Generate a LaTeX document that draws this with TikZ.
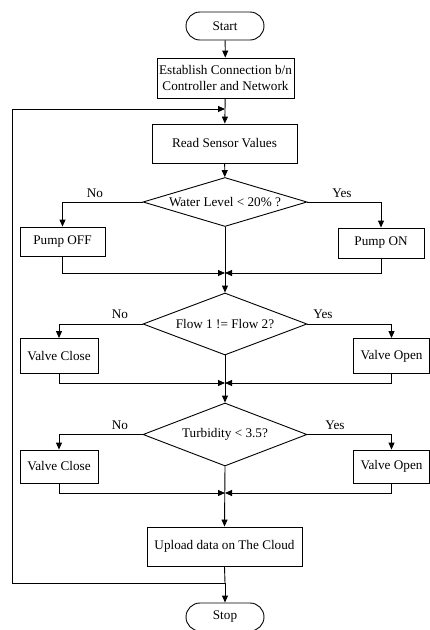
\documentclass[tikz,border=0pt]{standalone}
\usepackage{fontspec}
\setmainfont{Liberation Serif}
\usetikzlibrary{positioning}
\usetikzlibrary{shapes.geometric, arrows.meta, calc}
\tikzstyle{startstop} = [rectangle, rounded corners=14pt, minimum width=78pt, minimum height=28pt, draw=black, line width=0.9pt, inner sep=0pt]
\tikzstyle{process} = [rectangle, draw=black, line width=0.9pt, align=center, inner sep=0pt]
\tikzstyle{decision} = [diamond, draw=black, line width=0.9pt, inner sep=0pt, minimum width=164pt]
\tikzstyle{arrow} = [line width=0.9pt,-{Triangle[length=7pt,width=6pt]}]
\tikzstyle{line} = [line width=0.9pt]

\begin{document}
\begin{tikzpicture}[x=1pt,y=-1pt,every node/.style={font=\fontsize{13.2}{16}\selectfont}]
\useasboundingbox (0,0) rectangle (430,630);
\node (start) at (225,26) [startstop] {Start};
\node (estab) at (225.5,78) [process, minimum width=137pt, minimum height=40pt] {Establish Connection b/n\\Controller and Network};
\node (read) at (224.5,143.5) [process, minimum width=145pt, minimum height=39pt] {Read Sensor Values};
\node (dec1) at (225,202) [decision, minimum height=49pt] {\makebox[0pt]{Water Level < 20\% ?}};
\node (pumpoff) at (62.5,241.5) [process, minimum width=85pt, minimum height=29pt] {Pump OFF};
\node (pumpon) at (381,243) [process, minimum width=86pt, minimum height=30pt] {Pump ON};
\node (dec2) at (225,324) [decision, minimum height=62pt] {\makebox[0pt]{Flow 1 != Flow 2?}};
\node (vclose1) at (59,356) [process, minimum width=78pt, minimum height=35pt] {Valve Close};
\node (vopen1) at (391.5,356) [process, minimum width=76pt, minimum height=35pt] {Valve Open};
\node (dec3) at (225,434.5) [decision, minimum height=63pt] {\makebox[0pt]{Turbidity < 3.5?}};
\node (vclose2) at (59,466.5) [process, minimum width=78pt, minimum height=33pt] {Valve Close};
\node (vopen2) at (391.5,466.5) [process, minimum width=76pt, minimum height=33pt] {Valve Open};
\node (upload) at (224.5,546.5) [process, minimum width=155pt, minimum height=39pt] {Upload data on The Cloud};
\node (stop) at (225,617) [startstop] {Stop};

% branch labels
\node (no1) at (95,193) {No};
\node (yes1) at (342,193) {Yes};
\node (no2) at (120,314) {No};
\node (yes2) at (323,314) {Yes};
\node (no3) at (120,425) {No};
\node (yes3) at (335,425) {Yes};

\coordinate (m1) at (225,273);
\coordinate (m2) at (225,383);
\coordinate (m3) at (225,493);
\coordinate (in) at (225,109);
\coordinate (lp) at (225,583);
\coordinate (lpl) at (12,583);

\draw[arrow] (start)--(estab);
\draw[arrow] (estab)--(read);
\draw[arrow] (read)--(dec1);
\draw[arrow] (dec1.west) -| (pumpoff.north);
\draw[arrow] (dec1.east) -| (pumpon.north);
\draw[arrow] (pumpoff.south) |- (m1);
\draw[arrow] (pumpon.south) |- (m1);
\draw[arrow] (dec1.south)--(dec2.north);
\draw[arrow] (dec2.west) -| (vclose1.north);
\draw[arrow] (dec2.east) -| (vopen1.north);
\draw[arrow] (vclose1.south) |- (m2);
\draw[arrow] (vopen1.south) |- (m2);
\draw[arrow] (dec2.south)--(dec3.north);
\draw[arrow] (dec3.west) -| (vclose2.north);
\draw[arrow] (dec3.east) -| (vopen2.north);
\draw[arrow] (vclose2.south) |- (m3);
\draw[arrow] (vopen2.south) |- (m3);
\draw[arrow] (dec3.south)--(upload.north);
\draw[line] (upload.south)--(lp);
\draw[arrow] (lp)--(stop.north);
\draw[arrow] (lp)--(lpl) |- (in);
\end{tikzpicture}
\end{document}
